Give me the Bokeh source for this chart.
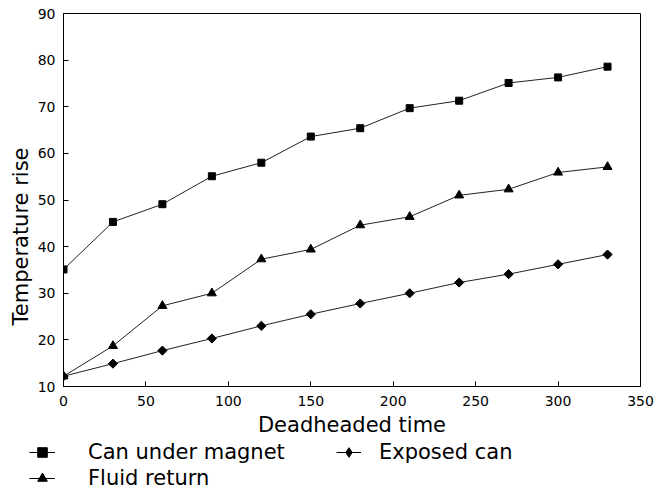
import math
from bokeh.plotting import figure
from bokeh.layouts import column
from bokeh.models import Legend, LegendItem, Range1d, FixedTicker, Title
from bokeh.embed import file_html
from bokeh.resources import INLINE

time = [0, 30, 60, 90, 120, 150, 180, 210, 240, 270, 300, 330]
can_under_magnet = [35.1, 45.3, 49.1, 55.1, 58.0, 63.6, 65.4, 69.7, 71.3, 75.1, 76.3, 78.6]
fluid_return = [12.2, 18.7, 27.3, 30.0, 37.3, 39.4, 44.6, 46.4, 51.0, 52.3, 55.9, 57.1]
exposed_can = [12.2, 14.9, 17.7, 20.3, 23.0, 25.5, 27.8, 30.0, 32.3, 34.1, 36.2, 38.3]
x_ticks = [0, 50, 100, 150, 200, 250, 300, 350]
y_ticks = [10, 20, 30, 40, 50, 60, 70, 80, 90]

FONT = "DejaVu Sans"
W = 656
FL, FR, FT, FB = 63, 640, 13, 386
PH = 440

p = figure(width=W, height=PH, output_backend="svg", toolbar_location=None,
           x_range=Range1d(0, 350), y_range=Range1d(10, 90),
           min_border_left=FL, min_border_right=W - FR, min_border_top=FT,
           min_border_bottom=PH - FB)
p.frame_align = False
p.grid.visible = False
p.outline_line_color = "black"
p.outline_line_width = 1
p.background_fill_color = "white"
p.border_fill_color = "white"

for ax in (p.xaxis[0], p.yaxis[0]):
    ax.major_tick_in = 5
    ax.major_tick_out = 0
    ax.minor_tick_line_color = None
    ax.axis_line_color = "black"
    ax.major_tick_line_color = "black"
    ax.major_label_text_font = FONT
    ax.major_label_text_font_size = "14px"
    ax.major_label_text_color = "black"
    ax.axis_label_text_font = FONT
    ax.axis_label_text_font_size = "21px"
    ax.axis_label_text_font_style = "normal"
    ax.axis_label_text_color = "black"

p.xaxis.ticker = FixedTicker(ticks=x_ticks)
p.yaxis.ticker = FixedTicker(ticks=y_ticks)
p.xaxis.axis_label = "Deadheaded time"
p.xaxis.major_label_standoff = 9
p.xaxis.axis_label_standoff = 4
p.yaxis.major_label_standoff = 8

# y-axis caption, set somewhat below the middle as in the original
ytitle = Title(text="Temperature rise", align="left", offset=61, standoff=4,
               text_font=FONT, text_font_size="21px", text_font_style="normal",
               text_color="black")
p.add_layout(ytitle, "left")

lc = "#222222"
p.line(time, can_under_magnet, line_color=lc, line_width=1)
p.scatter(time, can_under_magnet, marker="square", size=7, fill_color="black", line_color="black")
p.line(time, fluid_return, line_color=lc, line_width=1)
p.scatter(time, fluid_return, marker="triangle", size=9, fill_color="black", line_color="black")
p.line(time, exposed_can, line_color=lc, line_width=1)
p.scatter(time, exposed_can, marker="square", size=6.5, angle=math.pi / 4,
          fill_color="black", line_color="black")

# legend strip below the chart (its own view window shows none of the series)
LH = 50
q = figure(width=W, height=LH, output_backend="svg", toolbar_location=None,
           x_range=Range1d(-20, -10), y_range=Range1d(-20, -10),
           x_axis_location=None, y_axis_location=None,
           min_border_left=0, min_border_right=0, min_border_top=0, min_border_bottom=0)
q.frame_align = False
q.grid.visible = False
q.outline_line_color = None
q.background_fill_color = "white"
q.border_fill_color = "white"

r1l = q.line(time, can_under_magnet, line_color="black", line_width=1)
r1m = q.scatter(time, can_under_magnet, marker="square", size=6, fill_color="black", line_color="black")
r2l = q.line(time, fluid_return, line_color="black", line_width=1)
r2m = q.scatter(time, fluid_return, marker="triangle", size=7, fill_color="black", line_color="black")
r3l = q.line(time, exposed_can, line_color="black", line_width=1)
r3m = q.scatter(time, exposed_can, marker="diamond", size=9, fill_color="black", line_color="black")

def style(lg):
    lg.border_line_color = None
    lg.background_fill_alpha = 0
    lg.padding = 0
    lg.margin = 0
    lg.spacing = 2
    lg.glyph_width = 26
    lg.glyph_height = 24
    lg.label_height = 24
    lg.label_text_font = FONT
    lg.label_text_font_size = "21px"
    lg.label_text_color = "black"
    lg.label_text_baseline = "middle"

leg1 = Legend(items=[LegendItem(label="Can under magnet", renderers=[r1l, r1m]),
                     LegendItem(label="Fluid return", renderers=[r2l, r2m])],
              location=(29, 0))
style(leg1)
leg1.label_standoff = 33
leg2 = Legend(items=[LegendItem(label="Exposed can", renderers=[r3l, r3m])],
              location=(336, 26))
style(leg2)
leg2.glyph_width = 25
leg2.label_standoff = 18
q.add_layout(leg1)
q.add_layout(leg2)

layout = column(p, q, spacing=0)
open("out.html", "w").write(file_html(layout, INLINE))
